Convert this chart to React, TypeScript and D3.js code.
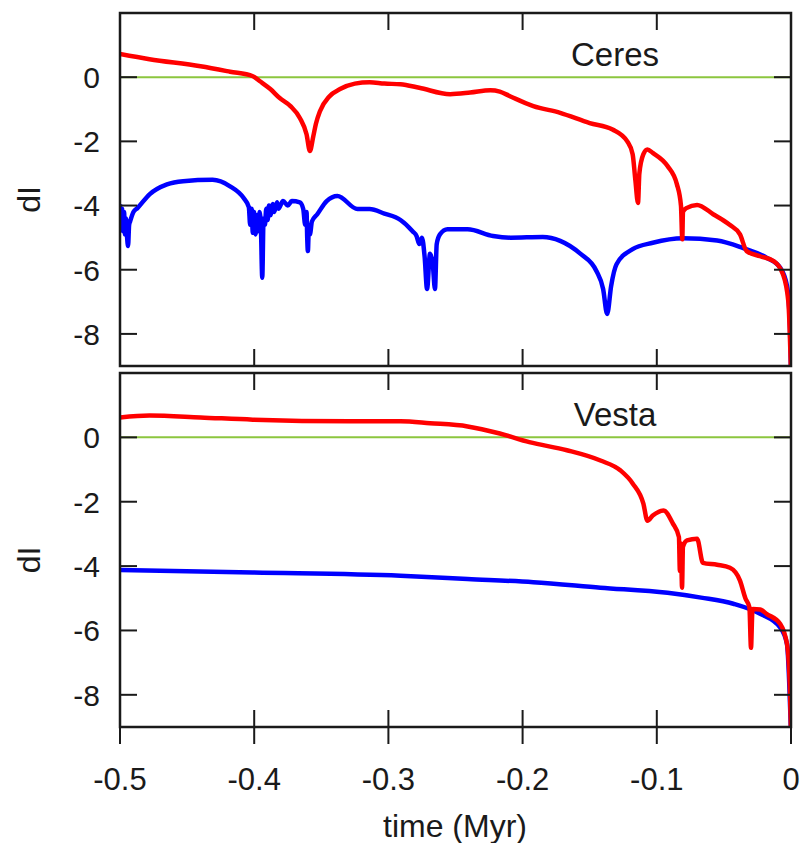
import React from "react";
import * as d3 from "d3";

// axis ticks
const timeTicks = [-0.5, -0.4, -0.3, -0.2, -0.1, 0];
const timeTickLabels = ["-0.5", "-0.4", "-0.3", "-0.2", "-0.1", "0"];
const dITicks = [0, -2, -4, -6, -8];
const dITickLabels = ["0", "-2", "-4", "-6", "-8"];

// [time (Myr), dI]
const ceresRed: [number, number][] = [
  [-0.5, 0.72], [-0.478, 0.56], [-0.44, 0.34], [-0.418, 0.17], [-0.401, 0.03],
  [-0.396, -0.12], [-0.388, -0.37], [-0.381, -0.65], [-0.373, -0.9], [-0.366, -1.27],
  [-0.361, -1.78], [-0.3585, -2.3], [-0.356, -1.85], [-0.354, -1.45], [-0.351, -1.06],
  [-0.344, -0.6], [-0.336, -0.37], [-0.325, -0.2], [-0.314, -0.16], [-0.303, -0.2],
  [-0.291, -0.22], [-0.277, -0.33], [-0.254, -0.53], [-0.239, -0.48], [-0.224, -0.41],
  [-0.217, -0.45], [-0.209, -0.6], [-0.192, -0.9], [-0.172, -1.11], [-0.15, -1.43],
  [-0.133, -1.63], [-0.122, -2.0], [-0.118, -2.4], [-0.116, -3.2], [-0.114, -3.92],
  [-0.113, -3.0], [-0.11, -2.4], [-0.107, -2.25], [-0.103, -2.36], [-0.092, -2.77],
  [-0.085, -3.34], [-0.082, -4.0], [-0.081, -5.05], [-0.0805, -4.2], [-0.078, -4.08],
  [-0.07, -3.98], [-0.058, -4.27], [-0.046, -4.59], [-0.038, -4.9], [-0.033, -5.42],
  [-0.023, -5.58], [-0.013, -5.73], [-0.006, -6.14], [-0.002, -6.98], [0, -9.2],
];

const ceresBlue: [number, number][] = [
  [-0.5, -3.96], [-0.4992, -4.7], [-0.4985, -4.1], [-0.4977, -4.8], [-0.497, -4.2],
  [-0.4962, -4.9], [-0.4955, -4.4], [-0.4947, -5.0], [-0.494, -5.26], [-0.4932, -4.6],
  [-0.4925, -4.5], [-0.49, -4.2], [-0.487, -4.08], [-0.478, -3.65], [-0.465, -3.34],
  [-0.453, -3.24], [-0.431, -3.2], [-0.418, -3.4], [-0.408, -3.76], [-0.404, -4.05],
  [-0.403, -4.6], [-0.402, -4.1], [-0.401, -4.85], [-0.4, -4.2], [-0.399, -4.9],
  [-0.398, -4.3], [-0.397, -4.8], [-0.396, -4.2], [-0.395, -4.7], [-0.394, -6.25],
  [-0.393, -4.4], [-0.392, -4.6], [-0.391, -4.1], [-0.39, -4.45], [-0.389, -4.0],
  [-0.388, -4.3], [-0.386, -3.95], [-0.385, -4.2], [-0.383, -3.9], [-0.382, -4.1],
  [-0.3785, -3.86], [-0.375, -4.0], [-0.372, -3.86], [-0.366, -3.9], [-0.3635, -4.1],
  [-0.362, -4.6], [-0.361, -4.2], [-0.3605, -5.0], [-0.36, -5.42], [-0.3592, -4.6],
  [-0.3585, -4.9], [-0.357, -4.5], [-0.353, -4.27], [-0.346, -3.86], [-0.338, -3.7],
  [-0.323, -4.11], [-0.314, -4.11], [-0.303, -4.25], [-0.291, -4.45], [-0.282, -4.8],
  [-0.279, -4.95], [-0.277, -5.2], [-0.275, -5.0], [-0.273, -5.6], [-0.2712, -6.6],
  [-0.269, -5.5], [-0.267, -5.8], [-0.2653, -6.6], [-0.264, -5.2], [-0.2616, -4.9],
  [-0.256, -4.74], [-0.241, -4.74], [-0.222, -4.95], [-0.209, -5.0], [-0.185, -4.98],
  [-0.172, -5.1], [-0.157, -5.5], [-0.145, -6.04], [-0.14, -6.6], [-0.137, -7.38],
  [-0.134, -6.5], [-0.13, -5.83], [-0.118, -5.36], [-0.103, -5.16], [-0.0805, -5.02],
  [-0.055, -5.09], [-0.036, -5.32], [-0.018, -5.63], [-0.008, -5.94], [-0.003, -6.5],
  [-0.001, -7.5], [0, -9.2],
];

const vestaRed: [number, number][] = [
  [-0.5, 0.62], [-0.478, 0.68], [-0.44, 0.62], [-0.401, 0.55], [-0.329, 0.5],
  [-0.291, 0.5], [-0.269, 0.44], [-0.241, 0.34], [-0.217, 0.12], [-0.195, -0.15],
  [-0.167, -0.4], [-0.142, -0.72], [-0.127, -1.03], [-0.118, -1.43], [-0.11, -2.06],
  [-0.107, -2.59], [-0.103, -2.43], [-0.095, -2.27], [-0.088, -2.68], [-0.0835, -3.1],
  [-0.0828, -4.15], [-0.082, -3.3], [-0.0812, -4.67], [-0.0805, -3.4], [-0.0775, -3.2],
  [-0.07, -3.15], [-0.0656, -3.9], [-0.0551, -3.96], [-0.0455, -4.05], [-0.038, -4.45],
  [-0.034, -5.0], [-0.031, -5.28], [-0.0298, -6.54], [-0.0288, -5.4], [-0.0283, -5.33],
  [-0.023, -5.35], [-0.018, -5.49], [-0.008, -5.8], [-0.003, -6.42], [-0.0007, -7.98],
  [0, -9.2],
];

const vestaBlue: [number, number][] = [
  [-0.5, -4.12], [-0.401, -4.2], [-0.291, -4.3], [-0.241, -4.4], [-0.192, -4.5],
  [-0.142, -4.67], [-0.092, -4.83], [-0.067, -4.98], [-0.043, -5.17], [-0.023, -5.48],
  [-0.008, -5.91], [-0.003, -6.42], [0, -9.2],
];

const W = 804;
const H = 843;
const left = 120;
const right = 791;
const TICK = 17;
const font = "'Liberation Sans', Arial, Helvetica, sans-serif";
const ink = "#1a1a1a";

const x = d3.scaleLinear().domain([-0.5, 0]).range([left, right]);

type PanelProps = {
  id: string;
  top: number;
  bottom: number;
  name: string;
  red: [number, number][];
  blue: [number, number][];
  outerTicks: boolean;
};

function Panel({ id, top, bottom, name, red, blue, outerTicks }: PanelProps) {
  const y = d3.scaleLinear().domain([-9, 2]).range([bottom, top]);
  const line = d3
    .line<[number, number]>()
    .x((d) => x(d[0]))
    .y((d) => y(d[1]))
    .curve(d3.curveMonotoneX);

  return (
    <g>
      <defs>
        <clipPath id={id}>
          <rect x={left} y={top} width={right - left} height={bottom - top} />
        </clipPath>
      </defs>
      <line x1={left} x2={right} y1={y(0)} y2={y(0)} stroke="#8cc63f" strokeWidth={2} />
      <g clipPath={`url(#${id})`}>
        <path d={line(blue) || ""} fill="none" stroke="#0000ff" strokeWidth={4.5} strokeLinejoin="round" />
        <path d={line(red) || ""} fill="none" stroke="#ff0000" strokeWidth={4.5} strokeLinejoin="round" />
      </g>
      {timeTicks.map((t) => (
        <g key={t} stroke={ink} strokeWidth={2}>
          <line x1={x(t)} x2={x(t)} y1={top} y2={top + TICK} />
          <line x1={x(t)} x2={x(t)} y1={bottom - TICK} y2={outerTicks ? bottom + TICK : bottom} />
        </g>
      ))}
      {dITicks.map((v, i) => (
        <g key={v}>
          <line x1={left} x2={left + TICK} y1={y(v)} y2={y(v)} stroke={ink} strokeWidth={2} />
          <line x1={right - TICK} x2={right} y1={y(v)} y2={y(v)} stroke={ink} strokeWidth={2} />
          <text
            x={left - 20}
            y={y(v)}
            dy="0.36em"
            textAnchor="end"
            fontSize={30}
            fontFamily={font}
            fill={ink}
          >
            {dITickLabels[i]}
          </text>
        </g>
      ))}
      <rect
        x={left}
        y={top}
        width={right - left}
        height={bottom - top}
        fill="none"
        stroke={ink}
        strokeWidth={2.5}
      />
      <text x={615} y={top + 53} textAnchor="middle" fontSize={33} fontFamily={font} fill={ink}>
        {name}
      </text>
      <text
        transform={`translate(40, ${(top + bottom) / 2 + 10}) rotate(-90)`}
        textAnchor="middle"
        fontSize={32}
        fontFamily={font}
        fill={ink}
      >
        dI
      </text>
    </g>
  );
}

export default function App() {
  const panelBottom = 727;
  return (
    <svg
      width={W}
      height={H}
      style={{ position: "absolute", left: 0, top: 0, background: "#fff" }}
    >
      <rect width={W} height={H} fill="#fff" />
      <Panel id="ceres" top={13} bottom={366} name="Ceres" red={ceresRed} blue={ceresBlue} outerTicks={false} />
      <Panel id="vesta" top={373} bottom={panelBottom} name="Vesta" red={vestaRed} blue={vestaBlue} outerTicks={true} />
      {timeTicks.map((t, i) => (
        <text
          key={t}
          x={x(t)}
          y={790}
          textAnchor="middle"
          fontSize={31}
          fontFamily={font}
          fill={ink}
        >
          {timeTickLabels[i]}
        </text>
      ))}
      <text x={455} y={837} textAnchor="middle" fontSize={32} fontFamily={font} fill={ink}>
        time (Myr)
      </text>
    </svg>
  );
}
